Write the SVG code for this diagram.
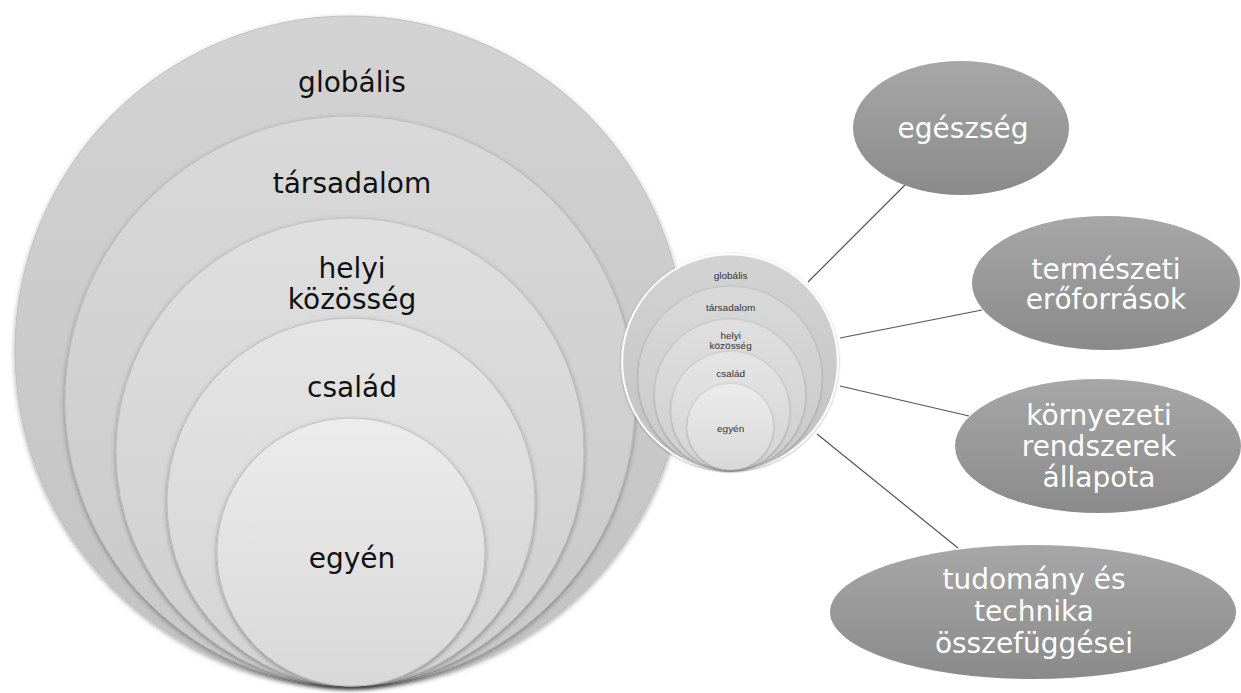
<svg xmlns="http://www.w3.org/2000/svg" width="1241" height="693" viewBox="0 0 1241 693">
<defs>
<linearGradient id="g1" x1="0" y1="0" x2="0" y2="1"><stop offset="0" stop-color="#d3d3d3"/><stop offset="1" stop-color="#c2c2c2"/></linearGradient>
<linearGradient id="g2" x1="0" y1="0" x2="0" y2="1"><stop offset="0" stop-color="#d9d9d9"/><stop offset="1" stop-color="#c8c8c8"/></linearGradient>
<linearGradient id="g3" x1="0" y1="0" x2="0" y2="1"><stop offset="0" stop-color="#dfdfdf"/><stop offset="1" stop-color="#cecece"/></linearGradient>
<linearGradient id="g4" x1="0" y1="0" x2="0" y2="1"><stop offset="0" stop-color="#e5e5e5"/><stop offset="1" stop-color="#d3d3d3"/></linearGradient>
<linearGradient id="g5" x1="0" y1="0" x2="0" y2="1"><stop offset="0" stop-color="#ececec"/><stop offset="1" stop-color="#d8d8d8"/></linearGradient>
<linearGradient id="ge" x1="0" y1="0" x2="0" y2="1"><stop offset="0" stop-color="#a7a7a7"/><stop offset="1" stop-color="#8a8a8a"/></linearGradient>
<filter id="sh" x="-10%" y="-10%" width="120%" height="125%"><feDropShadow dx="0" dy="2" stdDeviation="2.5" flood-color="#000" flood-opacity="0.35"/></filter>
</defs>
<style>
.big{font-family:"DejaVu Sans","Verdana",sans-serif;font-size:28px;fill:#111;text-anchor:middle}
.sm{font-family:"Liberation Sans",Arial,sans-serif;font-size:31px;fill:#333;text-anchor:middle}
.el{font-family:"DejaVu Sans","Verdana",sans-serif;font-size:28px;fill:#fff;text-anchor:middle}
.ring{stroke:#b9b9b9;stroke-width:0.8;filter:url(#sh)}
.conn{stroke:#555;stroke-width:1.2;fill:none}
</style>

<g id="big">
<g id="big-globalis"><circle class="ring" cx="350" cy="351" r="335" fill="url(#g1)"/><text class="big" x="352" y="92">globális</text></g>
<g id="big-tarsadalom"><circle class="ring" cx="350" cy="401" r="285" fill="url(#g2)"/><text class="big" x="352" y="193">társadalom</text></g>
<g id="big-helyi"><circle class="ring" cx="350" cy="452" r="234" fill="url(#g3)"/><text class="big" x="352" y="278">helyi</text><text class="big" x="352" y="309">közösség</text></g>
<g id="big-csalad"><circle class="ring" cx="351" cy="502" r="184" fill="url(#g4)"/><text class="big" x="352" y="397">család</text></g>
<g id="big-egyen"><circle class="ring" cx="351" cy="552" r="134" fill="url(#g5)"/><text class="big" x="352" y="568">egyén</text></g>
</g>

<g id="connectors">
<line class="conn" x1="808" y1="282" x2="907" y2="183"/>
<line class="conn" x1="840" y1="338" x2="982" y2="310"/>
<line class="conn" x1="840" y1="386" x2="969" y2="416"/>
<line class="conn" x1="817" y1="434" x2="958" y2="548"/>
</g>

<g id="small" transform="translate(617.3 249.1) scale(0.322)">
<g id="small-globalis"><circle cx="350" cy="351" r="335" fill="url(#g1)" stroke="#fff" stroke-width="6" filter="url(#sh)"/><text class="sm" x="352" y="92">globális</text></g>
<g id="small-tarsadalom"><circle class="ring" cx="350" cy="401" r="285" fill="url(#g2)"/><text class="sm" x="352" y="193">társadalom</text></g>
<g id="small-helyi"><circle class="ring" cx="350" cy="452" r="234" fill="url(#g3)"/><text class="sm" x="352" y="278">helyi</text><text class="sm" x="352" y="309">közösség</text></g>
<g id="small-csalad"><circle class="ring" cx="351" cy="502" r="184" fill="url(#g4)"/><text class="sm" x="352" y="397">család</text></g>
<g id="small-egyen"><circle class="ring" cx="351" cy="552" r="134" fill="url(#g5)"/><text class="sm" x="352" y="568">egyén</text></g>
</g>

<g id="node-egeszseg"><ellipse cx="961" cy="128" rx="108" ry="67" fill="url(#ge)"/><text class="el" x="963" y="138">egészség</text></g>
<g id="node-termeszeti"><ellipse cx="1106" cy="283" rx="134" ry="67" fill="url(#ge)"/><text class="el" x="1106" y="279">természeti</text><text class="el" x="1106" y="309">erőforrások</text></g>
<g id="node-kornyezeti"><ellipse cx="1098" cy="446" rx="143" ry="67" fill="url(#ge)"/><text class="el" x="1099" y="425">környezeti</text><text class="el" x="1099" y="456">rendszerek</text><text class="el" x="1099" y="487">állapota</text></g>
<g id="node-tudomany"><ellipse cx="1033" cy="612" rx="203" ry="67" fill="url(#ge)"/><text class="el" x="1034" y="589">tudomány és</text><text class="el" x="1034" y="621">technika</text><text class="el" x="1034" y="653">összefüggései</text></g>
</svg>
